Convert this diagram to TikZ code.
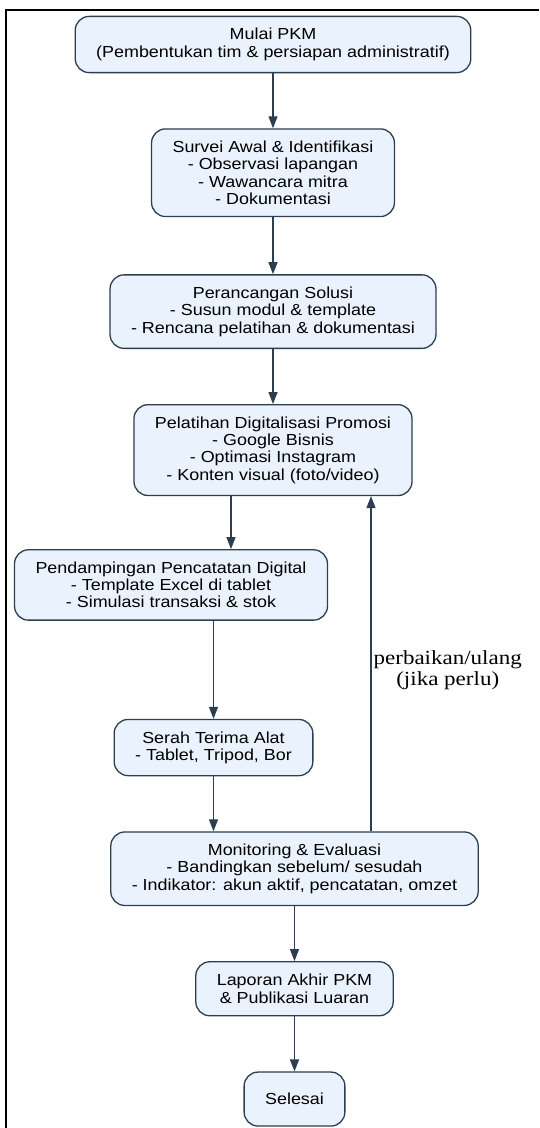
\documentclass[tikz,border=0pt]{standalone}
\usepackage{fontspec}
\setmainfont{Liberation Sans}[FakeStretch=1.12]
\newfontfamily\lblfont{Liberation Serif}[FakeStretch=1.15]
\usepackage{tikz}
\usetikzlibrary{arrows.meta,positioning}
\usepackage{xcolor}
\definecolor{boxedge}{RGB}{44, 62, 80}
\definecolor{boxfill}{RGB}{234,242,253}

\begin{document}
\begin{tikzpicture}[
  node distance=55pt,
  every node/.style={font=\fontsize{16pt}{17.3pt}\selectfont, align=center},
  box/.style={draw=boxedge, fill=boxfill, line width=1.3pt, rounded corners=14pt, inner xsep=21pt, inner ysep=12pt, minimum height=54pt},
  arrow/.style={-{Triangle[length=12pt,width=9pt]}, line width=1.3pt, boxedge},
  note/.style={font=\lblfont\fontsize{20pt}{21pt}\selectfont, text=black, inner sep=2pt}
]
  \useasboundingbox (0,0) rectangle (539pt,-1128pt);
  % Frame
  \draw[line width=2pt] (539pt,-10pt) -- (6pt,-10pt) -- (6pt,-1128pt);

  % Nodes
  \node (mulai) [box] at (273pt,-44.5pt) {Mulai PKM\\(Pembentukan tim \& persiapan administratif)};
  \node (survei) [box, below=of mulai] {Survei Awal \& Identifikasi\\- Observasi lapangan\\- Wawancara mitra\\- Dokumentasi};
  \node (rancang) [box, below=57pt of survei] {Perancangan Solusi\\- Susun modul \& template\\- Rencana pelatihan \& dokumentasi};
  \node (latih) [box, below=of rancang] {Pelatihan Digitalisasi Promosi\\- Google Bisnis\\- Optimasi Instagram\\- Konten visual (foto/video)};
  \node (damping) [box, below=53pt of latih, xshift=-102pt] {Pendampingan Pencatatan Digital\\- Template Excel di tablet\\- Simulasi transaksi \& stok};
  \node (serah) [box, below=98pt of damping, xshift=42.5pt] {Serah Terima Alat\\- Tablet, Tripod, Bor};
  \node (monev) [box, below=of serah, xshift=81pt] {Monitoring \& Evaluasi\\- Bandingkan sebelum/ sesudah\\- Indikator: akun aktif, pencatatan, omzet};
  \node (lapor) [box, below=of monev] {Laporan Akhir PKM\\\& Publikasi Luaran};
  \node (selesai) [box, below=of lapor] {Selesai};

  % Paths
  \draw [arrow] (mulai) -- (survei);
  \draw [arrow] (survei) -- (rancang);
  \draw [arrow] (rancang) -- (latih);
  \draw [arrow] ([xshift=-42pt]latih.south) -- ([xshift=-42pt]latih.south |- damping.north);
  \draw [arrow] (serah.north |- damping.south) -- (serah);
  \draw [arrow] (serah) -- (serah |- monev.north);
  \draw [arrow] (monev) -- (lapor);
  \draw [arrow] (lapor) -- (selesai);
  \draw [arrow] ([xshift=76.5pt]monev.north) -- ([xshift=76.5pt]monev.north |- latih.south)
    node[note, pos=0.48, right] {perbaikan/ulang\\(jika perlu)};
\end{tikzpicture}
\end{document}
